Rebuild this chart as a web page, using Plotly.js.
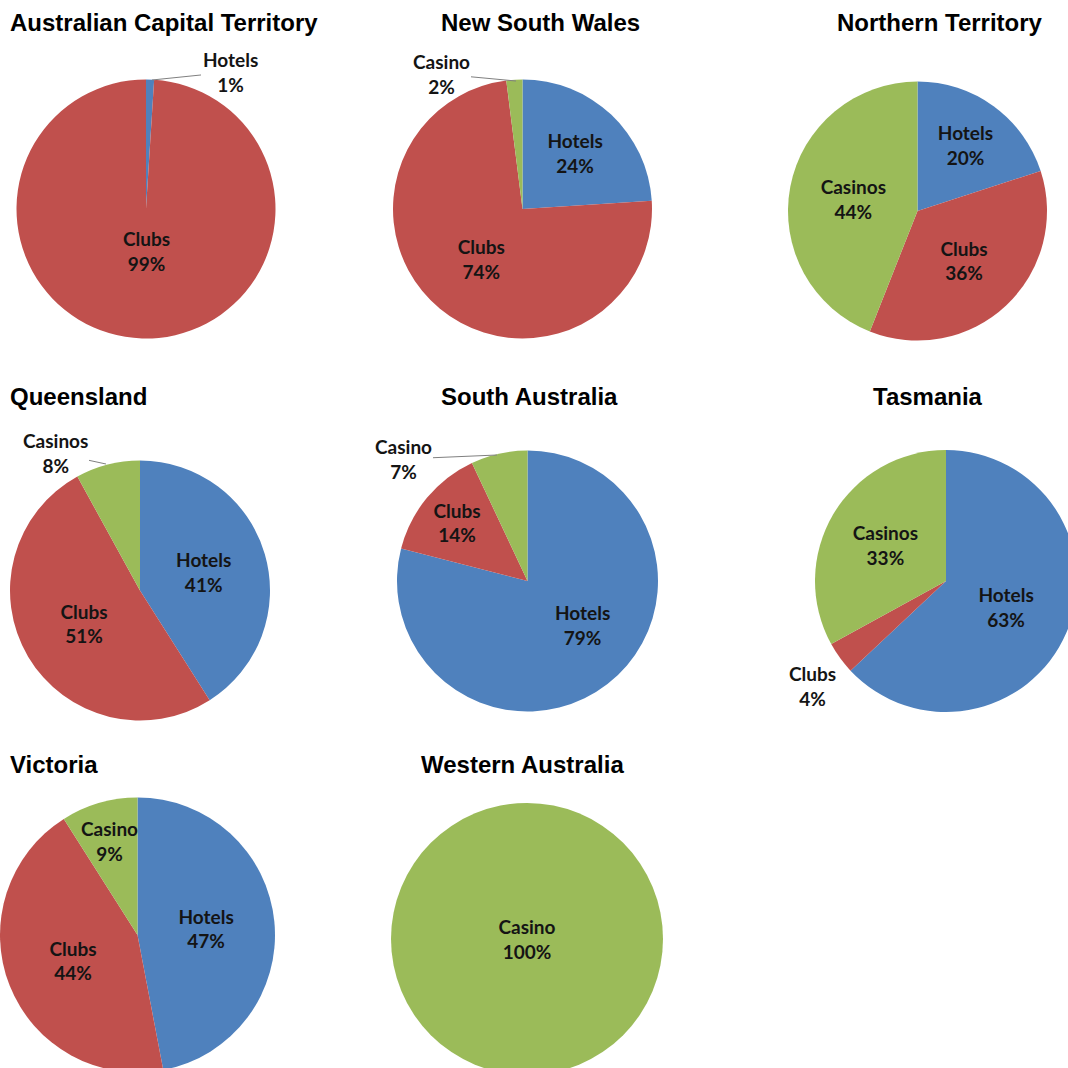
<!DOCTYPE html>
<html>
<head>
<meta charset="utf-8">
<script src="https://cdn.plot.ly/plotly-3.0.1.min.js"></script>
<style>
  html, body { margin: 0; padding: 0; overflow: hidden; background: #fff; }
  #chart { width: 1100px; height: 1100px; }
</style>
</head>
<body>
<div id="chart"></div>
<script>
// ---- Data ----
const states = ["Australian Capital Territory", "New South Wales", "Northern Territory",
                "Queensland", "South Australia", "Tasmania", "Victoria", "Western Australia"];
const actLabels = ["Hotels", "Clubs"];
const actValues = [1, 99];
const nswLabels = ["Hotels", "Clubs", "Casino"];
const nswValues = [24, 74, 2];
const ntLabels = ["Hotels", "Clubs", "Casinos"];
const ntValues = [20, 36, 44];
const qldLabels = ["Hotels", "Clubs", "Casinos"];
const qldValues = [41, 51, 8];
const saLabels = ["Hotels", "Clubs", "Casino"];
const saValues = [79, 14, 7];
const tasLabels = ["Hotels", "Clubs", "Casinos"];
const tasValues = [63, 4, 33];
const vicLabels = ["Hotels", "Clubs", "Casino"];
const vicValues = [47, 44, 9];
const waLabels = ["Casino"];
const waValues = [100];

// ---- Styling / layout config ----
const W = 1100, H = 1100;
const colorOf = { Hotels: "#4F81BD", Clubs: "#C0504D", Casino: "#9BBB59", Casinos: "#9BBB59" };
const labelFont = { family: "Lato, 'Open Sans', sans-serif", size: 19, color: "#141414", weight: "bold" };
const titleFont = { family: "'Liberation Sans', Arial, sans-serif", size: 24, color: "#000", weight: "bold" };

// [labels, values, centerX, centerY, radius, per-slice textposition]
const pies = [
  [actLabels, actValues, 146, 209, 129.5, ["none", "none"]],
  [nswLabels, nswValues, 522.5, 209, 129.5, ["inside", "inside", "none"]],
  [ntLabels,  ntValues,  917.5, 211, 129.5, ["inside", "inside", "inside"]],
  [qldLabels, qldValues, 140, 590.5, 130, ["inside", "inside", "none"]],
  [saLabels,  saValues,  527.5, 581, 130.5, ["none", "inside", "none"]],
  [tasLabels, tasValues, 946, 581, 131, ["inside", "none", "inside"]],
  [vicLabels, vicValues, 137, 935, 138, ["inside", "inside", "none"]],
  [waLabels,  waValues,  527, 939, 136, ["inside"]]
];

const traces = pies.map(([labels, values, cx, cy, r, tp]) => ({
  type: "pie",
  labels: labels,
  values: values,
  sort: false,
  direction: "clockwise",
  rotation: 0,
  marker: { colors: labels.map(l => colorOf[l]), line: { width: 0 } },
  textinfo: "label+percent",
  texttemplate: "%{label}<br>%{percent:.0%}",
  textposition: tp,
  insidetextorientation: "horizontal",
  textfont: labelFont,
  insidetextfont: labelFont,
  hoverinfo: "label+percent",
  showlegend: false,
  domain: {
    x: [(cx - r) / W, (cx + r) / W],
    y: [1 - (cy + r) / H, 1 - (cy - r) / H]
  }
}));

// Titles
const titlePos = [
  [8, 23, "left"], [540, 23, "center"], [940, 23, "center"],
  [8, 397, "left"], [529, 397, "center"], [928, 397, "center"],
  [8, 764, "left"], [522, 764, "center"]
];
const annotations = states.map((s, i) => ({
  text: s,
  xref: "paper", yref: "paper",
  x: titlePos[i][0] / W, y: 1 - titlePos[i][1] / H,
  xanchor: titlePos[i][2], yanchor: "middle",
  showarrow: false, font: titleFont
}));

// Labels placed by hand (with leader lines where the original has them)
// [pie index, slice index, tipX, tipY, textX, textY, showLine]
const extraLabels = [
  [0, 0, 152, 80, 230, 72, true],
  [0, 1, 0, 0, 146, 251, false],
  [1, 2, 516, 81, 441, 74, true],
  [3, 2, 106, 464, 55, 453, true],
  [4, 0, 0, 0, 582, 625, false],
  [4, 2, 497, 455, 403, 459, true],
  [5, 1, 840, 662, 812, 686, false],
  [6, 2, 0, 0, 109, 841, false]
];
extraLabels.forEach(([pi, si, tx, ty, lx, ly, line]) => {
  const labels = pies[pi][0], values = pies[pi][1];
  const total = values.reduce((a, b) => a + b, 0);
  const pct = Math.round(values[si] / total * 100) + "%";
  const a = {
    text: labels[si] + "<br>" + pct,
    xref: "paper", yref: "paper",
    showarrow: line,
    font: labelFont
  };
  if (line) {
    Object.assign(a, {
      x: tx / W, y: 1 - ty / H, ax: lx - tx, ay: ly - ty,
      arrowhead: 0, arrowwidth: 1, arrowcolor: "#808080", standoff: 0
    });
  } else {
    Object.assign(a, { x: lx / W, y: 1 - ly / H, xanchor: "center", yanchor: "middle" });
  }
  annotations.push(a);
});

Plotly.newPlot("chart", traces, {
  width: W, height: H,
  margin: { l: 0, r: 0, t: 0, b: 0 },
  paper_bgcolor: "#fff",
  annotations: annotations
}, { displayModeBar: false, staticPlot: true });
</script>
</body>
</html>
